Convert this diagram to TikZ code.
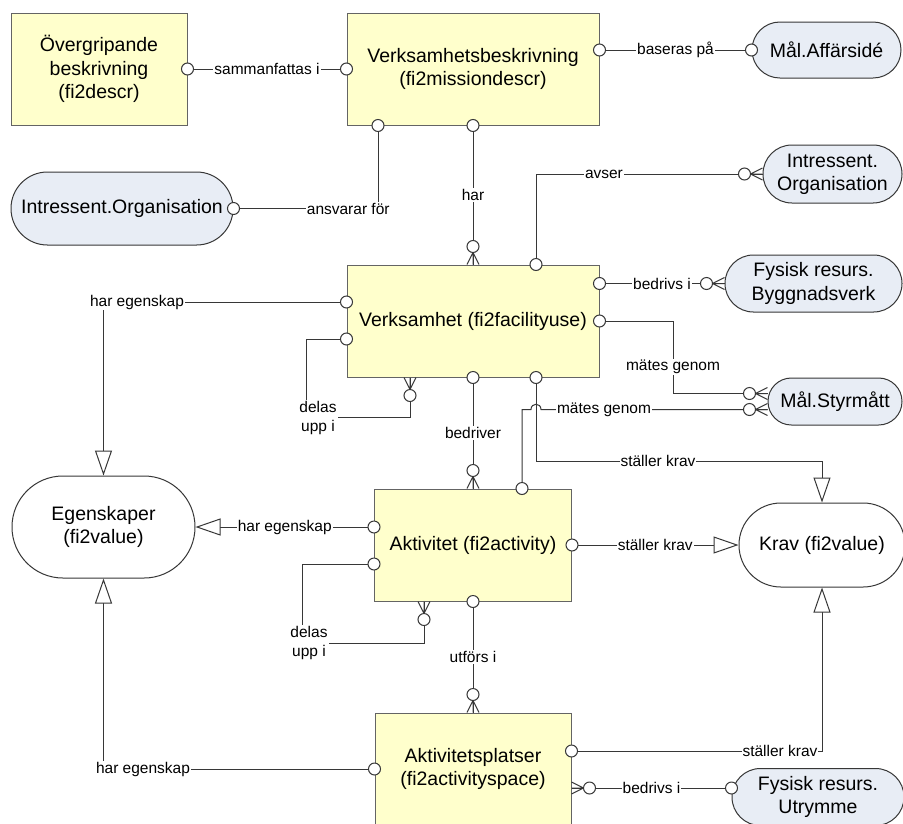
\documentclass[tikz,border=0pt]{standalone}
\usepackage{fontspec}
\setmainfont{Liberation Sans}
\usetikzlibrary{arrows.meta,decorations.markings,calc}

\definecolor{entfill}{RGB}{255,255,204}
\definecolor{extfill}{RGB}{232,237,245}
\definecolor{linegray}{RGB}{55,55,55}
\definecolor{boxline}{RGB}{100,100,100}

\tikzset{
  bigtext/.style={font=\fontsize{19.5}{23.3}\selectfont},
  entity/.style={rectangle, draw=boxline, line width=1pt, fill=entfill, inner sep=0pt, align=center, bigtext},
  extref/.style={rectangle, rounded corners=#1, draw=linegray, line width=1pt, fill=extfill, inner sep=0pt, align=center, bigtext},
  valueset/.style={rectangle, rounded corners=#1, draw=linegray, line width=1pt, fill=white, inner sep=0pt, align=center, bigtext},
  conn/.style={draw=linegray, line width=1pt},
  lbl/.style={fill=white, inner sep=1pt, align=center, font=\fontsize{15.5}{19.5}\selectfont},
  ring/.style={draw=linegray, line width=1pt, fill=white},
  ostart/.style={postaction={decorate, decoration={markings,
      mark=at position 0 with {\draw[ring] (0pt,0pt) circle (6pt);}}}},
  oend/.style={postaction={decorate, decoration={markings,
      mark=at position 0.99999 with {\draw[ring] (0pt,0pt) circle (6pt);}}}},
  crowend/.style={postaction={decorate, decoration={markings,
      mark=at position 0.99999 with {
        \draw[draw=linegray, line width=1pt]
          (-12pt,0pt) -- (0pt,6pt) (-12pt,0pt) -- (0pt,0pt) (-12pt,0pt) -- (0pt,-6pt);
        \draw[ring] (-18pt,0pt) circle (6pt);}}}},
  isa/.style={-{Triangle[length=25pt,width=17pt,fill=white]}},
}

\begin{document}
\begin{tikzpicture}[x=1pt, y=-1pt]
\useasboundingbox (0,0) rectangle (903,823);
\clip (0,0) rectangle (903,823);
\fill[white] (0,0) rectangle (903,823);

% entities
\node[entity, minimum width=176pt, minimum height=112pt] (od) at (99,69) {Övergripande\\beskrivning\\(fi2descr)};
\node[entity, minimum width=252pt, minimum height=112pt] (vb) at (473,69) {Verksamhetsbeskrivning\\(fi2missiondescr)};
\node[entity, minimum width=252pt, minimum height=112pt] (vf) at (473,321) {Verksamhet (fi2facilityuse)};
\node[entity, minimum width=197pt, minimum height=112pt] (ak) at (473,545) {Aktivitet (fi2activity)};
\node[entity, minimum width=196pt, minimum height=112pt] (ap) at (473,769) {Aktivitetsplatser\\(fi2activityspace)};

% referenced objects
\node[extref=27.9pt, minimum width=149pt, minimum height=56pt] (ma) at (826.5,50) {Mål.Affärsidé};
\node[extref=36.4pt, minimum width=222pt, minimum height=73pt] (io1) at (122,208.5) {Intressent.Organisation};
\node[extref=28.9pt, minimum width=139pt, minimum height=58pt] (io2) at (832.5,174) {Intressent.\\Organisation};
\node[extref=28.4pt, minimum width=177pt, minimum height=57pt] (fb) at (813.5,283.5) {Fysisk resurs.\\Byggnadsverk};
\node[extref=23.4pt, minimum width=134pt, minimum height=47pt] (ms) at (835,401.5) {Mål.Styrmått};
\node[extref=28.4pt, minimum width=172pt, minimum height=57pt] (fu) at (818,797) {Fysisk resurs.\\Utrymme};

% value sets
\node[valueset=50.9pt, minimum width=183pt, minimum height=102pt] (eg) at (103.5,527) {Egenskaper\\(fi2value)};
\node[valueset=41.9pt, minimum width=166pt, minimum height=84pt] (kr) at (822,545) {Krav (fi2value)};

% helper points
\coordinate (kv) at ([xshift=63pt]vf.south);
\coordinate (msa) at ([yshift=8pt]ms.west);
\coordinate (msb) at ([yshift=-8pt]ms.west);
\coordinate (hop) at (msb -| kv);
\coordinate (fuw) at ([yshift=9pt]fu.west);

% top row
\draw[conn, ostart, oend] (od.east) -- node[lbl] (t1) {sammanfattas i} (vb.west);
\draw[conn, ostart, oend] (vb.east |- ma.west) -- node[lbl] (t2) {baseras på} (ma.west);
\draw[conn, ostart, oend] ([xshift=-95pt]vb.south) |- node[lbl, pos=0.603] (t3) {ansvarar för} (io1.east);
\draw[conn, ostart, crowend] (vb.south) -- node[lbl] (t4) {har} (vf.north);

% Verksamhet
\draw[conn, ostart, crowend] ([xshift=63pt]vf.north) |- node[lbl, pos=0.65] (t5) {avser} (io2.west);
\draw[conn, ostart, crowend] (vf.east |- fb.west) -- node[lbl] (t6) {bedrivs i} (fb.west);
\draw[conn, ostart, crowend] (vf.east) -- ++(74,0) |- (msa);
\node[lbl] (t7) at (673,367) {mätes genom};
\draw[conn, ostart, isa] (kv) -- ++(0,84) -| (kr.north);
\node[lbl] (t9) at (658,461) {ställer krav};
\draw[conn, ostart, crowend] (vf.south) -- node[lbl] (t10) {bedriver} (ak.north);
\draw[conn, ostart, isa] ([yshift=19pt]vf.west) -| (eg.north);
\node[lbl] (t11) at (137,302) {har egenskap};
\draw[conn, ostart, crowend] ([yshift=-18pt]vf.west) -- ++(-40,0) -- ++(0,78) -| ([xshift=-63pt]vf.south);
\node[lbl] (t12) at (318,418) {delas\\upp i};

% Aktivitet
\draw[conn, ostart, crowend] ([xshift=49pt]ak.north) |- ([xshift=-5pt]hop)
  .. controls ([xshift=-5pt,yshift=7pt]hop) and ([xshift=5pt,yshift=7pt]hop) .. ([xshift=5pt]hop) -- (msb);
\node[lbl] (t8) at (604,409.5) {mätes genom};
\draw[conn, ostart, isa] (eg.east -| ak.west) -- node[lbl] (t13) {har egenskap} (eg.east);
\draw[conn, ostart, isa] (ak.east) -- node[lbl] (t14) {ställer krav} (kr.west);
\draw[conn, ostart, crowend] ([yshift=-19pt]ak.west) -- ++(-72,0) -- ++(0,79) -| ([xshift=-49pt]ak.south);
\node[lbl] (t15) at (309,643) {delas\\upp i};
\draw[conn, ostart, crowend] (ak.south) -- node[lbl] (t16) {utförs i} (ap.north);

% Aktivitetsplatser
\draw[conn, ostart, isa] (ap.west) -| (eg.south);
\node[lbl] (t17) at (143,769.5) {har egenskap};
\draw[conn, ostart, isa] ([yshift=18pt]ap.east) -| (kr.south);
\node[lbl] (t18) at (780,751) {ställer krav};
\draw[conn, ostart, crowend] (fuw) -- node[lbl] (t19) {bedrivs i} (fuw -| ap.east);
\end{tikzpicture}
\end{document}
